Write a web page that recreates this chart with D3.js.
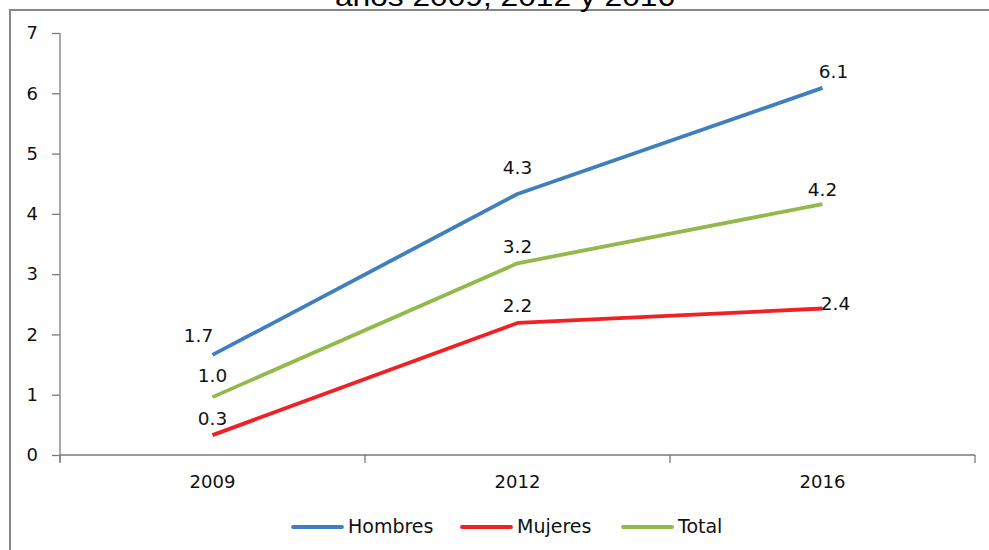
<!DOCTYPE html>
<html><head><meta charset="utf-8">
<script src="https://cdn.jsdelivr.net/npm/d3@7"></script>
<style>body{margin:0;background:#fff}svg{display:block}</style>
</head><body><svg id="c" width="989" height="550"></svg>
<script>
const years = ["2009", "2012", "2016"];
const hombres = [1.66, 4.33, 6.09];
const mujeres = [0.33, 2.19, 2.43];
const total = [0.96, 3.18, 4.16];
const seriesNames = ["Hombres", "Mujeres", "Total"];
const yTicks = [0, 1, 2, 3, 4, 5, 6, 7];
const titleText = "años 2009, 2012 y 2016";

const colors = ["#3f7fc0", "#f21f24", "#93b94b"];
const series = [hombres, mujeres, total];
const svg = d3.select("#c");
const font = "'DejaVu Sans', sans-serif";

// frame
svg.append("path").attr("d", "M10,550V10H989").attr("fill", "none")
  .attr("stroke", "#878787").attr("stroke-width", 2);

// title (cut off at top, as in the source)
svg.append("text").attr("x", 505).attr("y", 6).attr("text-anchor", "middle")
  .attr("font-family", "'Liberation Sans', Arial, sans-serif").attr("font-size", 27)
  .attr("textLength", 340).attr("lengthAdjust", "spacingAndGlyphs")
  .attr("fill", "#000").text(titleText);

const x = d3.scaleBand().domain(years).range([60, 975]);
const y = d3.scaleLinear().domain([0, 7]).range([455, 33]);

// y axis
const ya = svg.append("g").attr("transform", "translate(60,0)")
  .call(d3.axisLeft(y).tickValues(yTicks).tickSize(8).tickPadding(14).tickFormat(d3.format("d")));
ya.select(".domain").attr("stroke", "#7a7a7a").attr("stroke-width", 1.3).attr("d", "M0,33V462");
ya.selectAll(".tick line").attr("stroke", "#7a7a7a").attr("stroke-width", 1.3);
ya.selectAll("text").attr("font-family", font).attr("font-size", 18).attr("fill", "#111");

// x axis
const xa = svg.append("g").attr("transform", "translate(0,455)")
  .call(d3.axisBottom(x).tickSize(0).tickPadding(20));
xa.select(".domain").attr("stroke", "#7a7a7a").attr("stroke-width", 1.3).attr("d", "M60,0H975");
xa.selectAll("text").attr("font-family", font).attr("font-size", 18).attr("fill", "#111");
const bounds = years.map(d => x(d)).concat([x.range()[1]]);
svg.append("g").selectAll("line").data(bounds).join("line")
  .attr("x1", d => d).attr("x2", d => d).attr("y1", 455).attr("y2", 463)
  .attr("stroke", "#7a7a7a").attr("stroke-width", 1.3);

// lines
const line = d3.line().x((d, i) => x(years[i]) + x.bandwidth() / 2).y(d => y(d));
series.forEach((s, k) => {
  svg.append("path").datum(s).attr("d", line).attr("fill", "none")
    .attr("stroke", colors[k]).attr("stroke-width", 3.8).attr("stroke-linejoin", "round");
});

// data labels (offsets relative to point: dx, dy for baseline)
const offs = [
  [[-14, -13], [0, -20], [11, -10]],
  [[0, -10], [0, -11], [13, 1]],
  [[0, -15], [0, -10], [0, -8]]
];
series.forEach((s, k) => {
  svg.append("g").selectAll("text").data(s).join("text")
    .attr("x", (d, i) => x(years[i]) + x.bandwidth() / 2 + offs[k][i][0])
    .attr("y", (d, i) => y(d) + offs[k][i][1])
    .attr("text-anchor", "middle").attr("font-family", font).attr("font-size", 18.5)
    .attr("fill", "#111").text(d => d3.format(".1f")(d));
});

// legend
const legX = [293, 462, 623];
const lg = svg.append("g");
seriesNames.forEach((n, k) => {
  lg.append("line").attr("x1", legX[k]).attr("x2", legX[k] + 49).attr("y1", 527).attr("y2", 527)
    .attr("stroke", colors[k]).attr("stroke-width", 3.8).attr("stroke-linecap", "round");
  lg.append("text").attr("x", legX[k] + 55).attr("y", 533).attr("font-family", font)
    .attr("font-size", 19).attr("fill", "#111").text(n);
});
</script></body></html>
